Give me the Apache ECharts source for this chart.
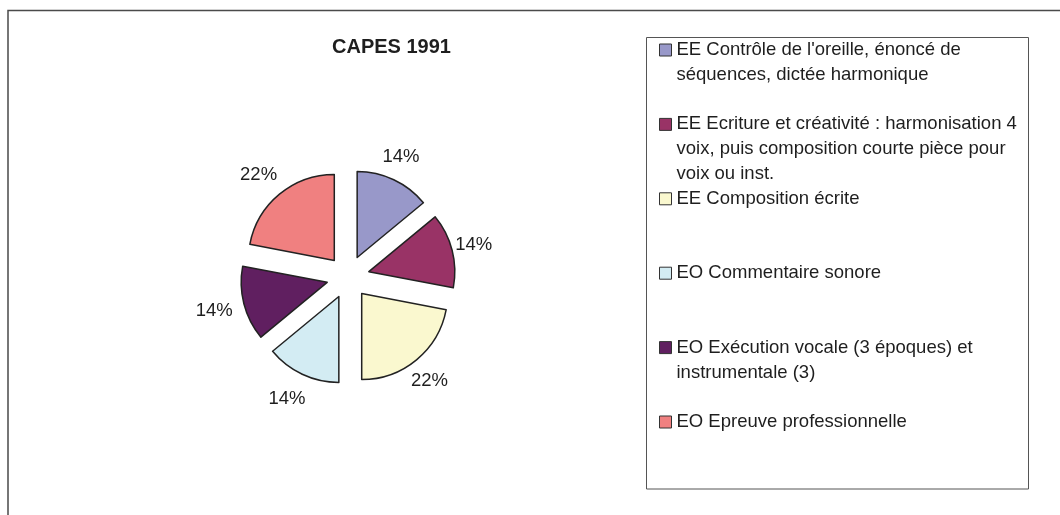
<!DOCTYPE html>
<html>
<head>
<meta charset="utf-8">
<title>CAPES 1991</title>
<style>
    html, body { margin: 0; padding: 0; background: #fff; }
    #statistics { width: 1060px; height: 515px; }
</style>
</head>
<body>
<div id="statistics"></div>
<script src="https://cdn.jsdelivr.net/npm/echarts@6/dist/echarts.min.js"></script>
<script type="text/javascript">
    // données
    var chartTitle = 'CAPES 1991';
    var categories = [
        "EE Contrôle de l'oreille, énoncé de séquences, dictée harmonique",
        "EE Ecriture et créativité : harmonisation 4 voix, puis composition courte pièce pour voix ou inst.",
        "EE Composition écrite",
        "EO Commentaire sonore",
        "EO Exécution vocale (3 époques) et instrumentale (3)",
        "EO Epreuve professionnelle"
    ];
    var shares = [14, 14, 22, 14, 14, 22];

    // mise en page de la légende (entrées régulièrement espacées, icône sur la 1re ligne)
    var legendLines = [2, 3, 1, 1, 2, 1];
    var legendFirstY = 50, legendStep = 74.4, lineH = 25;

    var palette = ['#9898c9', '#993366', '#faf8cf', '#d3ecf3', '#601f60', '#f08080'];
    var font = "'Liberation Sans', Arial, sans-serif";
    var textColor = '#1e1e1e';

    var pieData = categories.map(function (name, i) {
        return { name: name, value: shares[i], selected: true };
    });
    var labelData = categories.map(function (name, i) {
        return { name: name, value: shares[i] };
    });

    var legends = categories.map(function (name, i) {
        var n = legendLines[i];
        var y = legendFirstY + i * legendStep;
        return {
            orient: 'vertical',
            left: 659,
            top: y - (2 * n - 1) * lineH / 2,
            padding: 0,
            icon: 'rect',
            itemWidth: 12,
            itemHeight: 12,
            selectedMode: false,
            data: [name],
            // lignes vides devant le texte : l'icône reste en face de la 1re ligne
            formatter: function (txt) {
                return new Array(n).join('\n') + txt;
            },
            itemStyle: { borderColor: '#333', borderWidth: 1 },
            textStyle: {
                fontFamily: font,
                fontSize: 18.5,
                color: textColor,
                lineHeight: lineH,
                width: 365,
                overflow: 'break'
            }
        };
    });

    var myChart = echarts.init(document.getElementById('statistics'), null, { renderer: 'canvas' });
    var option = {
        animation: false,
        color: palette,
        textStyle: { fontFamily: font },
        title: {
            text: chartTitle,
            left: 332,
            top: 37,
            padding: 0,
            textStyle: { fontFamily: font, fontSize: 20, fontWeight: 'bold', color: textColor }
        },
        legend: legends,
        graphic: [
            {
                type: 'rect',
                z: -1,
                shape: { x: 8, y: 10.5, width: 1200, height: 700 },
                style: { fill: 'none', stroke: '#4a4a4a', lineWidth: 1.5 }
            },
            {
                type: 'rect',
                z: -1,
                shape: { x: 646.5, y: 37.5, width: 382, height: 451.5 },
                style: { fill: 'none', stroke: '#555', lineWidth: 1 }
            }
        ],
        series: [
            {
                name: chartTitle,
                type: 'pie',
                center: [348, 277],
                radius: 86,
                startAngle: 90,
                clockwise: true,
                selectedMode: 'multiple',
                selectedOffset: 21.5,
                label: { show: false },
                labelLine: { show: false },
                emphasis: { disabled: true },
                itemStyle: { borderColor: '#222', borderWidth: 1.5 },
                data: pieData
            },
            {
                // étiquettes de pourcentage placées autour du camembert
                name: 'labels',
                type: 'pie',
                silent: true,
                center: [344, 278],
                radius: [126, 136],
                startAngle: 90,
                clockwise: true,
                itemStyle: { color: 'rgba(0,0,0,0)', borderWidth: 0 },
                emphasis: { disabled: true },
                labelLine: { show: false },
                label: {
                    show: true,
                    position: 'inside',
                    formatter: '{d}%',
                    fontFamily: font,
                    fontSize: 18.5,
                    color: textColor
                },
                data: labelData
            }
        ]
    };
    myChart.setOption(option);
</script>
</body>
</html>
